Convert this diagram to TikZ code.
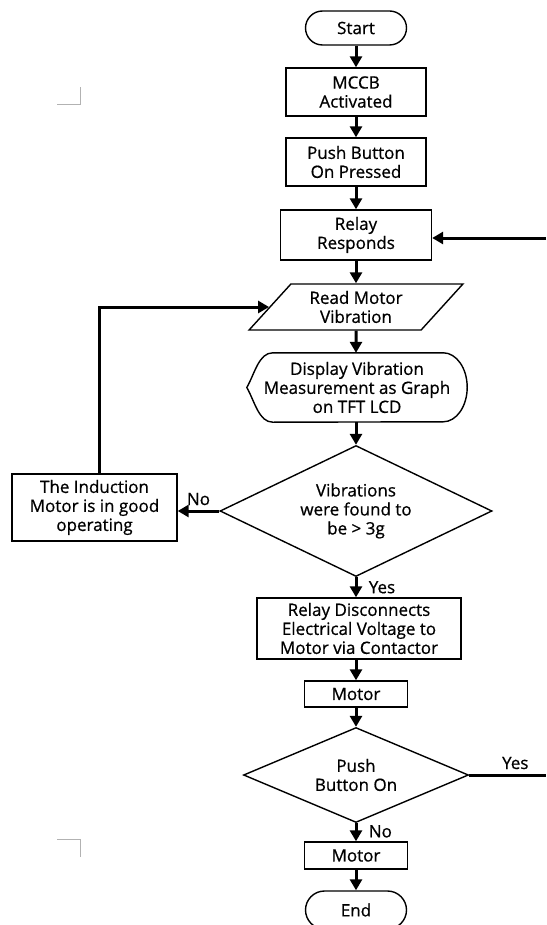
\documentclass[tikz,border=0pt]{standalone}
\usepackage{fontspec}
\setmainfont{Open Sans}[FakeBold=0.7]
\usetikzlibrary{shapes.geometric,arrows.meta}

\begin{document}
\begin{tikzpicture}[x=1pt,y=-1pt,
    font=\fontsize{17}{19}\selectfont,
    >={Triangle[length=11pt,width=12pt]},
    box/.style={draw,line width=1.4pt,align=center,inner sep=0pt},
    terminal/.style={box,rounded corners=17pt,minimum width=101pt,minimum height=34pt},
    flow/.style={->,line width=3pt}]
\useasboundingbox (0,0) rectangle (546,925);

\node [terminal]                                                   (start)  at (356,  28) {Start};
\node [box,minimum width=140pt,minimum height=48pt]               (mccb)   at (356,  92) {MCCB\\ Activated};
\node [box,minimum width=140pt,minimum height=48pt]               (push)   at (356, 162) {Push Button\\ On Pressed};
\node [box,minimum width=151pt,minimum height=50pt]               (relay)  at (356, 235) {Relay\\ Responds};
\node [box,trapezium,trapezium left angle=47,trapezium right angle=133,
       trapezium stretches=true,minimum width=214pt,minimum height=46pt] (read) at (356, 307) {Read Motor\\ Vibration};
\node [align=center,inner sep=0pt,minimum width=220pt,minimum height=69pt] (disp) at (357, 387.5) {Display Vibration\\ Measurement as Graph\\ on TFT LCD};
\node [box,diamond,aspect=2.1,minimum width=272pt,minimum height=131pt] (vib) at (356, 511) {Vibrations\\ were found to\\ be > 3g};
\node [box,minimum width=165pt,minimum height=67pt]               (good)   at (94.5, 507.5) {The Induction\\ Motor is in good\\ operating};
\node [box,minimum width=204pt,minimum height=61pt]               (disc)   at (359, 628.5) {Relay Disconnects\\ Electrical Voltage to\\ Motor via Contactor};
\node [box,minimum width=103pt,minimum height=26pt]               (motora) at (356, 694) {Motor};
\node [box,diamond,aspect=2.4,minimum width=225pt,minimum height=95pt] (pb) at (356, 775) {Push\\ Button On};
\node [box,minimum width=103pt,minimum height=27pt]               (motorb) at (356, 855.5) {Motor};
\node [terminal,rounded corners=19pt,minimum height=38pt]          (end)    at (356, 910) {End};

\coordinate (relayin) at (546, 238);
\coordinate (pbout)   at (546, 775);

\draw [line width=1.4pt] ([xshift=26pt]disp.south west)
    .. controls ([xshift=12pt]disp.south west) and ([xshift=8pt,yshift=-14pt]disp.west) .. (disp.west)
    .. controls ([xshift=8pt,yshift=14pt]disp.west) and ([xshift=12pt]disp.north west) .. ([xshift=26pt]disp.north west)
    -- ([xshift=-24pt]disp.north east)
    arc [start angle=90,end angle=-90,x radius=24pt,y radius=34.5pt] -- cycle;

\draw [flow] (start)  -- (mccb);
\draw [flow] (mccb)   -- (push);
\draw [flow] (push)   -- (relay);
\draw [flow] (relay)  -- (read);
\draw [flow] (read)   -- (read |- disp.north);
\draw [flow] (read |- disp.south) -- (vib);
\draw [flow] (vib.south) --
    node[right=8pt,pos=.5] {Yes}
    (vib.south |- disc.north);
\draw [flow] (motora |- disc.south) -- (motora);
\draw [flow] (motora) -- (pb);
\draw [flow] (pb.south) --
    node[right=8pt,pos=.45] {No}
    (motorb);
\draw [flow] (motorb) -- (end);

\draw [flow] (vib.west) --
    node[above=1pt,pos=.5] {No}
    (vib.west -| good.east);
\draw [flow] ([xshift=4.5pt]good.north) |- (read.west);
\draw [flow] (relayin) -- (relayin -| relay.east);
\draw [line width=3pt] (pb.east) --
    node[above=1pt,pos=.6] {Yes}
    (pbout);

\draw [gray!60,line width=1pt] (57, 105) -- (80, 105) -- (80,  87);
\draw [gray!60,line width=1pt] (57, 839) -- (80, 839) -- (80, 857);
\end{tikzpicture}
\end{document}
